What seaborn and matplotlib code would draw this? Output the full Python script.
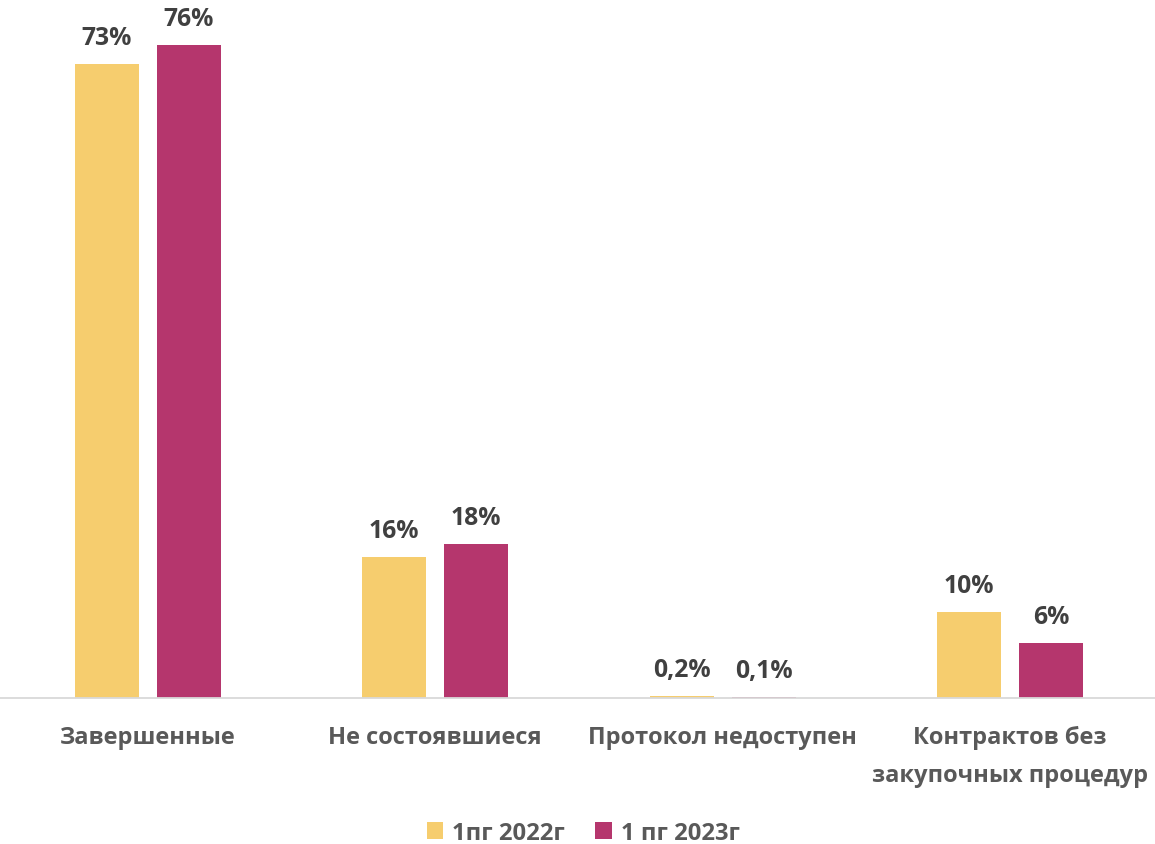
import matplotlib
matplotlib.use('Agg')
import matplotlib.pyplot as plt
import seaborn as sns
import pandas as pd

categories = ['Завершенные', 'Не состоявшиеся', 'Протокол недоступен',
              'Контрактов без\nзакупочных процедур']
series = ['1пг 2022г', '1 пг 2023г']
values_2022 = [73.0, 16.2, 0.2, 9.9]
values_2023 = [75.2, 17.7, 0.1, 6.3]
labels_2022 = ['73%', '16%', '0,2%', '10%']
labels_2023 = ['76%', '18%', '0,1%', '6%']
colors = ['#F6CD6E', '#B5366D']

sns.set_theme(style='white')
plt.rcParams['font.family'] = ['Open Sans', 'DejaVu Sans']

df = pd.DataFrame({
    'cat': categories * 2,
    'val': values_2022 + values_2023,
    'series': [series[0]] * len(categories) + [series[1]] * len(categories),
})

fig = plt.figure(figsize=(11.55, 8.45), dpi=100)
ax = fig.add_axes([0, 146 / 845, 1, 699 / 845])
sns.barplot(data=df, x='cat', y='val', hue='series', order=categories,
            hue_order=series, palette=colors, saturation=1, width=0.571,
            gap=0.22, linewidth=0, ax=ax)
ax.set_xlim(-0.515, 3.505)
ax.set_ylim(0, 699 / 8.68)

for container, labs in zip(ax.containers, [labels_2022, labels_2023]):
    for bar, lab in zip(container, labs):
        ax.annotate(lab, (bar.get_x() + bar.get_width() / 2, bar.get_height()),
                    xytext=(0, 14.4), textcoords='offset points', ha='center',
                    va='baseline', fontsize=17.8, fontweight='bold', color='#404040')

ax.set_xticks(range(len(categories)))
ax.set_xticklabels(categories, fontsize=17, fontweight='bold', color='#595959',
                   linespacing=1.75)
ax.tick_params(axis='x', length=0, pad=19.5)
ax.set_yticks([])
ax.set_xlabel('')
ax.set_ylabel('')
for s in ['top', 'left', 'right']:
    ax.spines[s].set_visible(False)
ax.spines['bottom'].set_color('#D9D9D9')
ax.spines['bottom'].set_linewidth(1.3)

handles, lbls = ax.get_legend_handles_labels()
ax.legend(handles, lbls, loc='center', bbox_to_anchor=(0.505, 1 - 834 / 845),
          bbox_transform=fig.transFigure, ncol=2, frameon=False,
          prop={'size': 17.2, 'weight': 'bold'}, labelcolor='#595959',
          handlelength=0.68, handleheight=0.68, handletextpad=0.38,
          columnspacing=1.27)

fig.savefig('out.png', dpi=100)
